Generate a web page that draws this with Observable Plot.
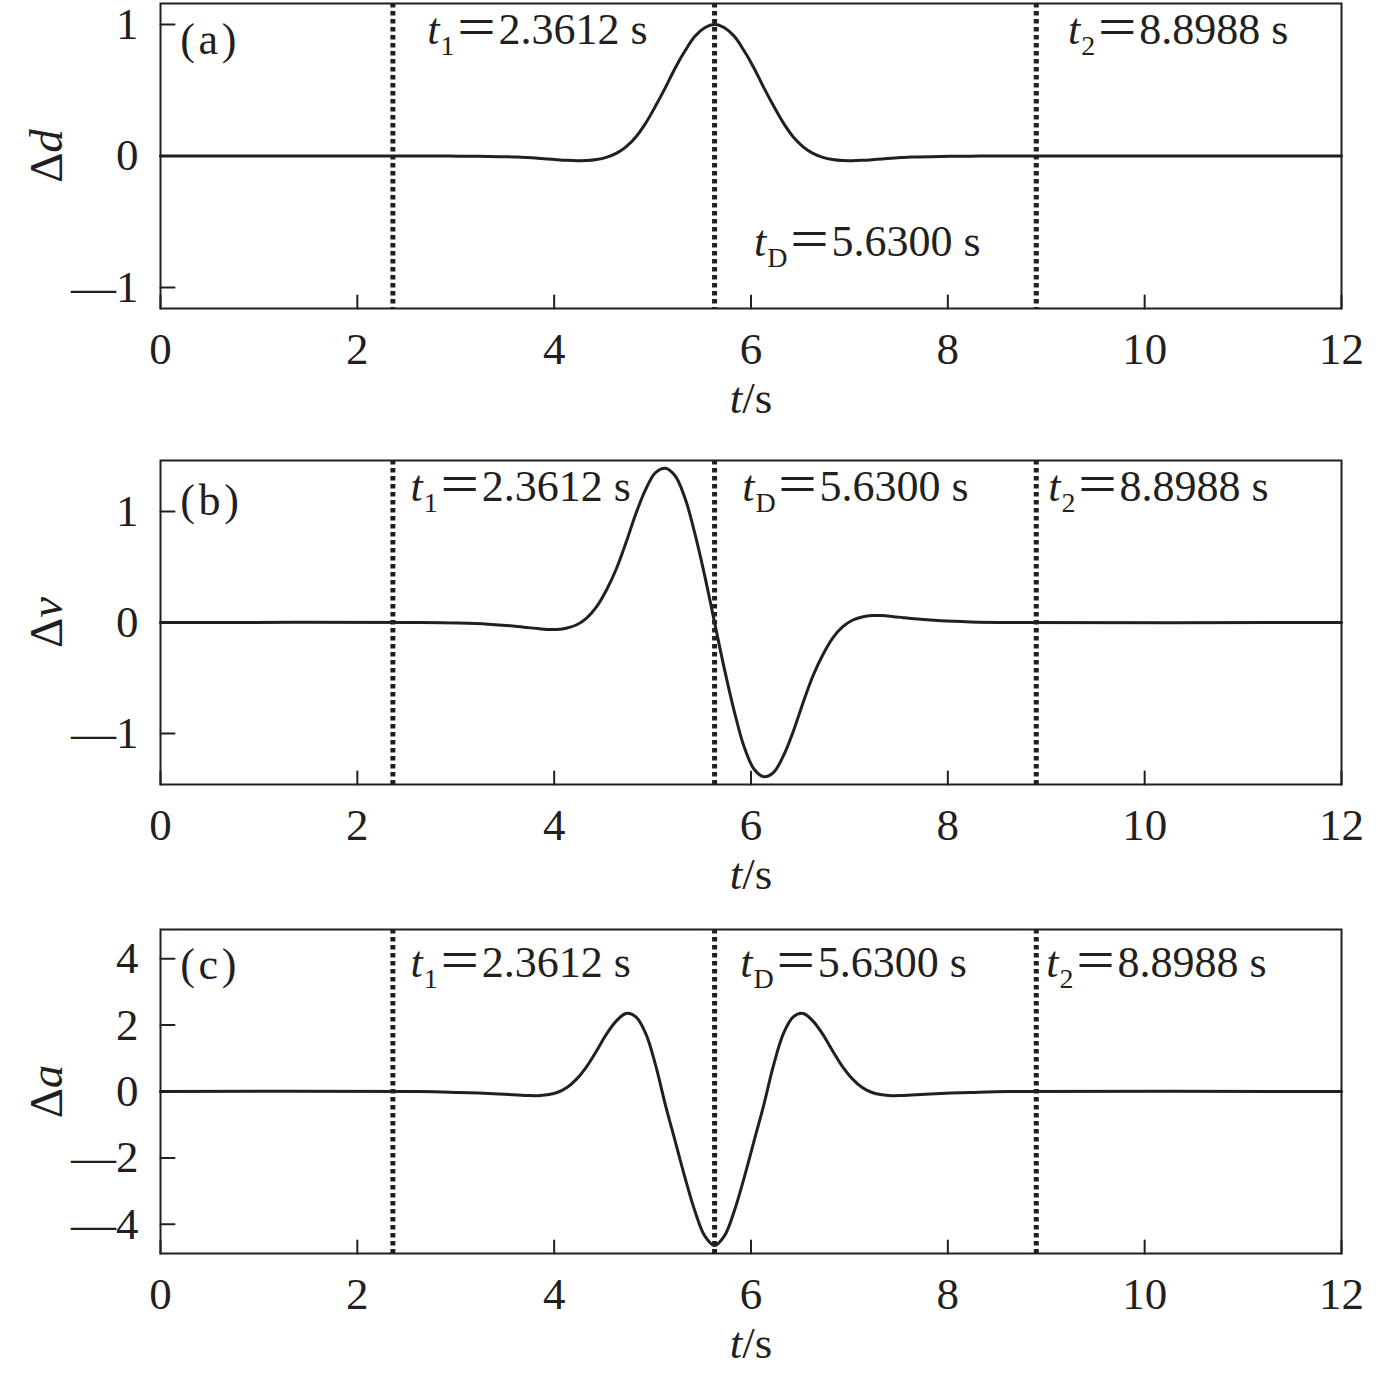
<!DOCTYPE html>
<html><head><meta charset="utf-8">
<script src="https://cdn.jsdelivr.net/npm/d3@7"></script>
<script src="https://cdn.jsdelivr.net/npm/@observablehq/plot@0.6"></script>
<style>
body{margin:0;background:#fff;}
#chart{width:1378px;}
#chart svg{display:block;}
</style></head><body><div id="chart"></div>
<script>
// time samples (s)
const t = [0, 2.63, 3.03, 3.33,
  3.63, 3.73, 3.83, 3.93, 4.03, 4.13, 4.23, 4.33, 4.43, 4.53, 4.63, 4.73, 4.83, 4.93, 5.03, 5.13, 5.23, 5.33, 5.43, 5.53,
  5.63,
  5.73, 5.83, 5.93, 6.03, 6.13, 6.23, 6.33, 6.43, 6.53, 6.63, 6.73, 6.83, 6.93, 7.03, 7.13, 7.23, 7.33, 7.43, 7.53, 7.63,
  7.93, 8.23, 8.63, 12];
// Δd
const dd = [0, 0, -0.001, -0.003,
  -0.008, -0.012, -0.017, -0.022, -0.028, -0.033, -0.036, -0.035, -0.027, -0.01, 0.02, 0.07, 0.145, 0.25, 0.38, 0.52, 0.67, 0.80, 0.91, 0.975,
  1.0,
  0.975, 0.91, 0.80, 0.67, 0.52, 0.38, 0.25, 0.145, 0.07, 0.02, -0.01, -0.027, -0.035, -0.036, -0.033, -0.028, -0.022, -0.017, -0.012, -0.008,
  -0.003, -0.001, 0, 0];
// Δv
const dv = [0, 0, -0.005, -0.015,
  -0.036, -0.046, -0.055, -0.062, -0.063, -0.05, -0.02, 0.04, 0.14, 0.29, 0.48, 0.72, 0.98, 1.20, 1.35, 1.39, 1.32, 1.12, 0.80, 0.42,
  0,
  -0.42, -0.80, -1.12, -1.32, -1.39, -1.35, -1.20, -0.98, -0.72, -0.48, -0.29, -0.14, -0.04, 0.02, 0.05, 0.063, 0.062, 0.055, 0.046, 0.036,
  0.015, 0.005, 0, 0];
// Δa
const da = [0, 0, -0.03, -0.06,
  -0.105, -0.12, -0.125, -0.10, -0.03, 0.12, 0.38, 0.75, 1.22, 1.72, 2.12, 2.35, 2.25, 1.75, 0.8, -0.4, -1.5, -2.6, -3.6, -4.35,
  -4.64,
  -4.35, -3.6, -2.6, -1.5, -0.4, 0.8, 1.75, 2.25, 2.35, 2.12, 1.72, 1.22, 0.75, 0.38, 0.12, -0.03, -0.10, -0.125, -0.12, -0.105,
  -0.06, -0.03, 0, 0];

const series = [dd, dv, da];
const markers = [2.3612, 5.63, 8.8988];
const markerLabels = ["i:t|s:1|＝2.3612 s", "i:t|s:D|＝5.6300 s", "i:t|s:2|＝8.8988 s"];
const panelLetters = ["(\u200Aa\u200A)", "(\u200Ab\u200A)", "(\u200Ac\u200A)"];
const yLabels = ["Δ|i:d", "Δ|i:v", "Δ|i:a"];
const xLabel = "i:t|/s";
const xTicks = [0, 2, 4, 6, 8, 10, 12];
const yTicks = [[-1, 0, 1], [-1, 0, 1], [-4, -2, 0, 2, 4]];
const yDomains = [[-1.16, 1.16], [-1.46, 1.46], [-4.88, 4.88]];
// annotation anchor positions (data units)
const annotX = [[2.71, 6.03, 9.22], [2.54, 5.91, 9.02], [2.54, 5.89, 9.0]];
const annotY = [[0.96, -0.655, 0.96], [1.22, 1.22, 1.22], [3.88, 3.88, 3.88]];
const letterPos = [[0.2, 0.88], [0.2, 1.10], [0.2, 3.8]];

const heights = [455, 469, 449];
const marginTops = [3, 5, 5];
const marginBottoms = [147, 140, 120];

const ink = "#231f20";
const fmt = d => d < 0 ? "—" + (-d) : String(d);
const tickShape = {draw(context, l) { context.moveTo(0, 0); context.lineTo(0, -l); }};

function richify(svg) {
  d3.select(svg).selectAll("text").each(function() {
    const s = this.textContent;
    if (!s.includes("|")) return;
    const el = d3.select(this);
    el.text(null);
    let shift = 0;
    s.split("|").forEach(seg => {
      const ts = el.append("tspan");
      if (seg.startsWith("i:")) {
        ts.text(seg.slice(2)).attr("font-style", "italic");
        if (shift) { ts.attr("dy", -shift); shift = 0; }
      } else if (seg.startsWith("s:")) {
        ts.text(seg.slice(2)).attr("font-size", "28px").attr("dy", 11).attr("dx", 1);
        shift = 11;
      } else {
        ts.text(seg);
        if (shift) { ts.attr("dy", -shift); shift = 0; }
      }
    });
  });
}

const chart = document.getElementById("chart");
for (let i = 0; i < 3; i++) {
  const data = t.map((x, j) => ({t: x, v: series[i][j]}));
  const annots = markers.map((m, j) => ({x: annotX[i][j], y: annotY[i][j], label: markerLabels[j]}));
  const svg = Plot.plot({
    width: 1378,
    height: heights[i],
    marginLeft: 160,
    marginRight: 37,
    marginTop: marginTops[i],
    marginBottom: marginBottoms[i],
    style: {fontFamily: "'Liberation Serif', 'Times New Roman', 'Noto Sans CJK SC', serif", fontSize: "45px", color: ink, background: "#fff"},
    x: {domain: [0, 12]},
    y: {domain: yDomains[i]},
    marks: [
      Plot.axisX(xTicks, {tickSize: 0, tickPadding: 24, label: null, tickFormat: fmt, fill: ink, fontSize: 45}),
      Plot.axisY(yTicks[i], {tickSize: 0, tickPadding: 22, label: null, tickFormat: fmt, fill: ink, fontSize: 45}),
      Plot.vector(xTicks, {x: d => d, frameAnchor: "bottom", length: 13, rotate: 0, anchor: "start", shape: tickShape, stroke: ink, strokeWidth: 2}),
      Plot.vector(yTicks[i], {y: d => d, frameAnchor: "left", length: 14, rotate: 90, anchor: "start", shape: tickShape, stroke: ink, strokeWidth: 2}),
      Plot.ruleX(markers, {stroke: ink, strokeWidth: 5, strokeDasharray: "4.5,3.5"}),
      Plot.line(data, {x: "t", y: "v", curve: "catmull-rom", stroke: ink, strokeWidth: 3}),
      Plot.frame({stroke: ink, strokeWidth: 2}),
      Plot.text(annots, {x: "x", y: "y", text: "label", textAnchor: "start", lineAnchor: "middle", fontSize: 44, fill: ink}),
      Plot.text([panelLetters[i]], {x: letterPos[i][0], y: letterPos[i][1], text: d => d, textAnchor: "start", lineAnchor: "middle", fontSize: 44, fill: ink}),
      Plot.text([xLabel], {frameAnchor: "bottom", text: d => d, dy: 104, textAnchor: "middle", lineAnchor: "bottom", fontSize: 45, fill: ink}),
      Plot.text([yLabels[i]], {frameAnchor: "left", text: d => d, dx: -114, rotate: -90, textAnchor: "middle", lineAnchor: "middle", fontSize: 47, fill: ink})
    ]
  });
  richify(svg);
  chart.appendChild(svg);
}
</script>
</body></html>
